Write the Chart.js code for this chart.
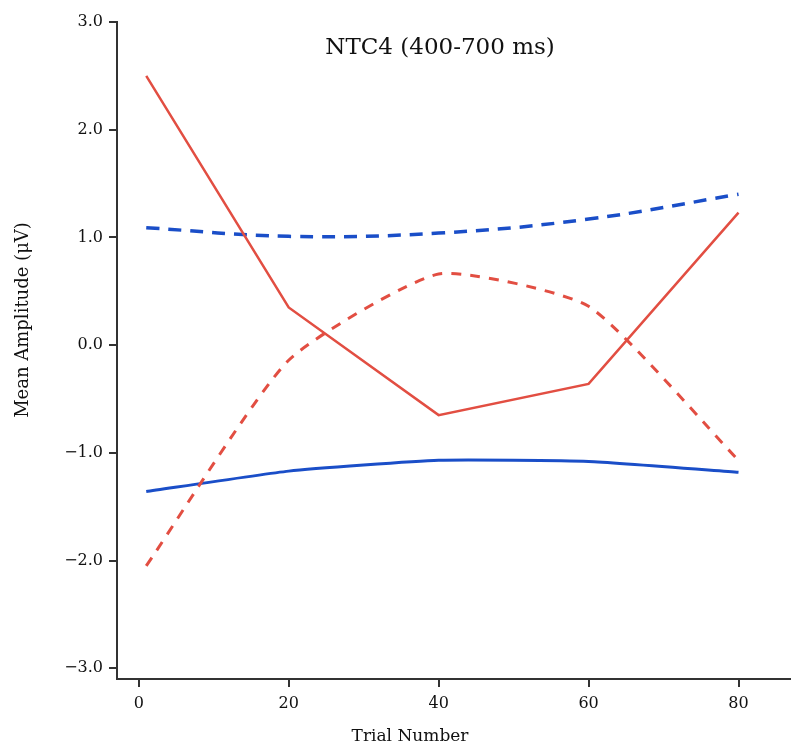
<!DOCTYPE html>
<html>
<head>
<meta charset="utf-8">
<script src="https://cdn.jsdelivr.net/npm/chart.js@4"></script>
<style>
  html, body { margin: 0; padding: 0; background: #fff; }
  #wrap { width: 791px; height: 752px; }
</style>
</head>
<body>
<div id="wrap"><canvas id="chart" width="791" height="752"></canvas></div>
<script>
// Datos del gráfico
const trials = [1, 20, 40, 60, 80];
const redSolid = [2.50, 0.35, -0.65, -0.36, 1.23];
const redDashed = [-2.05, -0.14, 0.66, 0.36, -1.07];
const blueSolid = [-1.36, -1.17, -1.07, -1.08, -1.18];
const blueDashed = [1.09, 1.01, 1.04, 1.17, 1.40];
const yTicks = [-3, -2, -1, 0, 1, 2, 3];
const xTicks = [0, 20, 40, 60, 80];

const RED = 'rgb(226, 78, 66)';
const BLUE = 'rgb(26, 78, 200)';
const serif = '"DejaVu Serif", "Liberation Serif", serif';

function toPoints(values) {
    return trials.map((t, i) => ({ x: t, y: values[i] }));
}

// Títulos dibujados a mano (posición como en la figura original)
const textPlugin = {
    id: 'textos',
    afterDraw(chart) {
        const ctx = chart.ctx;
        ctx.save();
        ctx.fillStyle = '#111';
        ctx.textAlign = 'center';
        ctx.textBaseline = 'middle';
        ctx.font = '23px ' + serif;
        ctx.fillText('NTC4 (400-700 ms)', 440, 48);
        ctx.font = '17px ' + serif;
        ctx.fillText('Trial Number', 410, 737);
        ctx.translate(23, 320);
        ctx.rotate(-Math.PI / 2);
        ctx.font = '18px ' + serif;
        ctx.fillText('Mean Amplitude (μV)', 0, 0);
        ctx.restore();
    }
};

const ctx = document.getElementById('chart').getContext('2d');
new Chart(ctx, {
    type: 'line',
    data: {
        datasets: [
            {
                label: 'red solid',
                data: toPoints(redSolid),
                borderColor: RED,
                borderWidth: 2.5,
                tension: 0,
                pointRadius: 0
            },
            {
                label: 'red dashed',
                data: toPoints(redDashed),
                borderColor: RED,
                borderWidth: 3,
                borderDash: [10, 9],
                tension: 0.18,
                pointRadius: 0
            },
            {
                label: 'blue dashed',
                data: toPoints(blueDashed),
                borderColor: BLUE,
                borderWidth: 3.5,
                borderDash: [13, 9],
                tension: 0.4,
                pointRadius: 0
            },
            {
                label: 'blue solid',
                data: toPoints(blueSolid),
                borderColor: BLUE,
                borderWidth: 3,
                tension: 0.15,
                pointRadius: 0
            }
        ]
    },
    options: {
        responsive: false,
        animation: false,
        layout: { padding: { top: 22, right: 0, left: 0, bottom: 0 } },
        plugins: {
            legend: { display: false },
            tooltip: { enabled: false }
        },
        scales: {
            x: {
                type: 'linear',
                min: -2.9,
                max: 87,
                afterBuildTicks: (scale) => { scale.ticks = xTicks.map(v => ({ value: v })); },
                afterFit: (scale) => { scale.height = 73; },
                border: { color: '#333', width: 2 },
                grid: { drawOnChartArea: false, color: '#333', lineWidth: 2, tickLength: 8 },
                ticks: { color: '#111', font: { family: serif, size: 16 }, padding: 7 }
            },
            y: {
                min: -3.1,
                max: 3,
                afterBuildTicks: (scale) => { scale.ticks = yTicks.map(v => ({ value: v })); },
                afterFit: (scale) => { scale.width = 117; },
                border: { color: '#333', width: 2 },
                grid: { drawOnChartArea: false, color: '#333', lineWidth: 2, tickLength: 8 },
                ticks: {
                    color: '#111',
                    font: { family: serif, size: 16 },
                    padding: 6,
                    callback: (v) => v.toFixed(1).replace('-', '\u2212')
                }
            }
        }
    },
    plugins: [textPlugin]
});
</script>
</body>
</html>
